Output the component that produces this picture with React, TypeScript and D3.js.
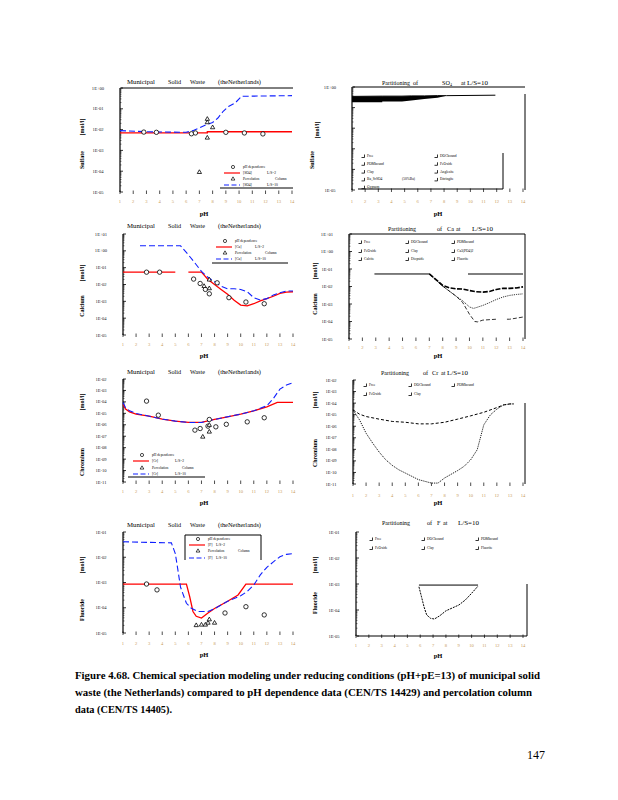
import React from 'react'
import * as d3 from 'd3'

const pHTicks = [1, 2, 3, 4, 5, 6, 7, 8, 9, 10, 11, 12, 13, 14]

// Sulfate - Municipal Solid Waste (NL)
const so4L2PH = [1, 7.6, 7.6, 14]
const so4L2 = [6.9e-3, 6.9e-3, 7.9e-3, 7.9e-3]
const so4L10PH = [1, 3, 6, 6.5, 7, 7.5, 8, 8.4, 8.8, 9.2, 9.7, 10.2, 14]
const so4L10 = [8.9e-3, 7.9e-3, 7.4e-3, 8.9e-3, 1.2e-2, 1.7e-2, 2.2e-2, 3.6e-2, 7.6e-2, 0.13, 0.19, 0.4, 0.43]
const so4PhDepPH = [2.8, 3.75, 6.4, 6.7, 9.0, 10.4, 11.8]
const so4PhDep = [7.6e-3, 7.4e-3, 6.3e-3, 6.9e-3, 7.4e-3, 6.9e-3, 6.2e-3]
const so4ColPH = [7.6, 7.6, 8.0, 7.0, 7.6]
const so4Col = [3.2e-2, 2.2e-2, 1.26e-2, 8.9e-5, 4.0e-3]

// Sulfate partitioning at L/S=10
const partSo4PH = [1, 3.3, 3.3, 4.8, 5.5, 6.5, 7.5, 8.2, 11.9]
const partSo4Total = [0.35, 0.36, 0.36, 0.36, 0.37, 0.37, 0.38, 0.38, 0.4]
const partSo4Solid = [0.18, 0.18, 0.2, 0.2, 0.22, 0.26, 0.3, 0.38, 0.4]

// Calcium - Municipal Solid Waste (NL)
const caL2PH = [1, 5, 5.5, 6, 7, 7.5, 8, 8.5, 9, 9.5, 10, 10.5, 11, 11.5, 12, 12.5, 13, 13.5, 14]
const caL2 = [5.4e-2, 5.4e-2, null, 5.4e-2, 5.4e-2, 2.0e-2, 1.0e-2, 5.1e-3, 2.6e-3, 1.15e-3, 6.0e-4, 5.4e-4, 7.2e-4, 1.05e-3, 1.45e-3, 2.0e-3, 2.95e-3, 3.5e-3, 3.7e-3]
const caL10PH = [2.3, 5.4, 6, 6.5, 7, 7.5, 8, 8.5, 9, 9.5, 10, 10.5, 11, 11.5, 12, 12.5, 13, 13.5, 14]
const caL10 = [2.0, 2.0, 0.58, 0.19, 6.0e-2, 2.7e-2, 1.45e-2, 7.9e-3, 5.6e-3, 5.6e-3, 5.1e-3, 3.7e-3, 1.65e-3, 1.2e-3, 1.45e-3, 2.35e-3, 3.2e-3, 4.1e-3, 4.1e-3]
const caPhDepPH = [2.8, 3.8, 6.4, 6.9, 7.3, 7.6, 8.2, 9.1, 10.4, 11.8]
const caPhDep = [5.4e-2, 5.4e-2, 2.1e-2, 1.15e-2, 5.1e-3, 2.8e-3, 1.26e-2, 1.65e-3, 9.1e-4, 7.2e-4]
const caColPH = [7.6, 7.6, 7.2]
const caCol = [1.9e-2, 5.8e-3, 7.9e-3]

// Calcium partitioning at L/S=10
const partCaTotalPH = [2.9, 7]
const partCaTotal = [5.2e-2, 5.2e-2]
const partCaAPH = [7, 7.5, 8, 8.5, 9, 9.5, 10, 10.5, 11, 11.5, 12, 12.5, 13, 13.5, 14]
const partCaA = [5.2e-2, 2.5e-2, 1.15e-2, 8.3e-3, 7.4e-3, 7.1e-3, 5.9e-3, 5.0e-3, 4.8e-3, 5.2e-3, 6.8e-3, 7.8e-3, 7.8e-3, 8.3e-3, 9.5e-3]
const partCaBPH = [7, 8, 9, 9.5, 10, 10.3, 10.5, 11, 11.5, 12, 12.5, 13, 13.5, 14]
const partCaB = [5.2e-2, 1.05e-2, 2.8e-3, 1.5e-3, 6.8e-4, 5.6e-4, 6.2e-4, 8.3e-4, 1.2e-3, 1.8e-3, 2.5e-3, 3.1e-3, 3.5e-3, 3.8e-3]
const partCaCPH = [7, 8, 9, 9.5, 10, 10.4, 10.6, 11, 12, 12.3, 12.8, 13, 13.5, 14]
const partCaC = [5.2e-2, 1.05e-2, 2.8e-3, 1.2e-3, 2.6e-4, 1.0e-4, 9.5e-5, 1.2e-4, 1.35e-4, null, 1.35e-4, 1.35e-4, 1.55e-4, 1.8e-4]

// Chromium - Municipal Solid Waste (NL)
const crL2PH = [1, 1.2, 1.5, 2, 3, 4, 5, 6, 7, 8, 9, 10, 11, 12, 12.8, 14]
const crL2 = [6.0e-5, 2.35e-5, 1.35e-5, 8.5e-6, 5.6e-6, 3.1e-6, 2.1e-6, 1.6e-6, 1.6e-6, 2.9e-6, 5.0e-6, 8.5e-6, 1.65e-5, 3.7e-5, 8.9e-5, 8.9e-5]
const crL10PH = [1, 1.2, 1.5, 2, 3, 4, 5, 6, 7, 8, 9, 10, 11, 12, 12.5, 13, 13.5, 14]
const crL10 = [8.9e-5, 3.1e-5, 1.65e-5, 9.8e-6, 5.6e-6, 3.1e-6, 2.1e-6, 1.6e-6, 1.6e-6, 2.9e-6, 5.0e-6, 8.5e-6, 1.65e-5, 4.6e-5, 2.0e-4, 1.3e-3, 2.95e-3, 4.8e-3]
const crPhDepPH = [2.8, 3.7, 7.6, 8.9, 10.5, 11.8, 6.5, 6.9, 7.5, 8.1]
const crPhDep = [1.17e-4, 6.9e-6, 2.9e-6, 1.1e-6, 1.8e-6, 4.1e-6, 3.4e-7, 4.7e-7, 7.6e-7, 6.6e-7]
const crColPH = [7.1, 7.6, 7.6]
const crCol = [8.7e-8, 2.4e-7, 9.3e-7]

// Chromium partitioning at L/S=10
const partCrPH = [1, 1.5, 2, 3, 4, 5, 6, 7, 8, 9, 10, 11, 12, 12.5, 13, 13.3]
const partCrTotal = [2.6e-5, 1.1e-5, 6.9e-6, 4.1e-6, 2.6e-6, 2.2e-6, 1.6e-6, 1.6e-6, 2.2e-6, 4.1e-6, 7.9e-6, 1.6e-5, 4.1e-5, 6.9e-5, 8.5e-5, 8.5e-5]
const partCrFreePH = [1, 1.5, 2, 2.5, 3, 3.5, 4, 4.5, 5, 6, 7, 7.5, 8, 9, 9.5, 10, 10.5, 11, 11.5, 12, 12.5, 13, 13.3]
const partCrFree = [2.6e-5, 3.5e-6, 2.5e-7, 3.5e-8, 5.8e-9, 1.26e-9, 4.1e-10, 1.7e-10, 8.9e-11, 2.4e-11, 1.2e-11, 1.2e-11, 3.3e-11, 1.45e-10, 3.4e-10, 1.26e-9, 9.3e-9, 1.3e-6, 9.5e-6, 3.0e-5, 6.9e-5, 8.5e-5, 8.5e-5]

// Fluoride - Municipal Solid Waste (NL)
const fL2PH = [1, 5.85, 6.1, 6.35, 6.6, 7, 7.5, 8, 9, 9.8, 10.4, 14]
const fL2 = [8.7e-4, 8.7e-4, 2.75e-4, 7.1e-5, 4.6e-5, 3.9e-5, 6.2e-5, 9.3e-5, 1.8e-4, 3.2e-4, 8.7e-4, 8.7e-4]
const fL10PH = [1, 4.7, 5.0, 5.2, 5.4, 5.85, 6.2, 6.7, 7.5, 8.0, 9, 10, 10.5, 11, 11.5, 12, 12.5, 13, 13.5, 14]
const fL10 = [4.1e-2, 3.7e-2, 1.4e-2, 3.1e-3, 6.5e-4, 1.5e-4, 9.8e-5, 7.1e-5, 7.1e-5, 9.1e-5, 1.8e-4, 3.0e-4, 4.4e-4, 7.9e-4, 2.0e-3, 4.0e-3, 6.6e-3, 1.05e-2, 1.3e-2, 1.4e-2]
const fPhDepPH = [2.8, 3.6, 8.8, 10.4, 11.8]
const fPhDep = [8.7e-4, 5.1e-4, 6.2e-5, 1.1e-4, 5.2e-5]
const fColPH = [6.6, 7.0, 7.3, 7.5, 7.6, 8.0]
const fCol = [2.0e-5, 2.1e-5, 2.1e-5, 2.5e-5, 3.4e-5, 2.5e-5]

// Fluoride partitioning at L/S=10
const partFTotalPH = [5.9, 10.5]
const partFTotal = [9.1e-4, 9.1e-4]
const partFFluoritePH = [5.9, 6.1, 6.3, 6.5, 6.8, 7.1, 7.5, 8, 9, 9.5, 10, 10.5]
const partFFluorite = [7.8e-4, 3.2e-4, 1.3e-4, 6.5e-5, 4.8e-5, 4.5e-5, 5.9e-5, 9.3e-5, 1.55e-4, 2.4e-4, 4.4e-4, 8.3e-4]

const captionLines = [
  'Figure 4.68.  Chemical speciation modeling under reducing conditions (pH+pE=13) of municipal solid',
  'waste (the Netherlands) compared to pH dependence data (CEN/TS 14429) and percolation column',
  'data (CEN/TS 14405).',
]

const RED = '#ff0000'
const BLUE = '#1020ff'
const SERIF = '"Liberation Serif", "Times New Roman", serif'

interface Series { pH: number[]; conc: (number | null)[]; color: string; width: number; dash?: string }
interface Points { pH: number[]; conc: number[]; shape: 'circle' | 'triangle' }
interface LegendEntry { mark: 'circle' | 'triangle' | 'line' | 'corner' | 'none'; x: number; y: number; x2?: number; color?: string; dash?: string; texts: [string, number][] }
interface TitleWord { t: string; x: number; sub?: boolean; w?: number }
interface PanelSpec {
  x1: number; x14: number; yTop: number; yBottom: number; domain: [number, number]; labelled?: number[]
  title: TitleWord[]; titleY: number
  yName: string; yNamePos: [number, number]; unitPos: [number, number]
  pHPos: [number, number]; xTickY: number
  lines: Series[]; points?: Points[]
  area?: { pH: number[]; lo: number[]; hi: number[] }
  legend: LegendEntry[]
  frame: [number, number, number, number][]
}

const mswTitle: TitleWord[] = [
  { t: 'Municipal', x: 127, w: 28 }, { t: 'Solid', x: 168 }, { t: 'Waste', x: 190 }, { t: '(theNetherlands)', x: 218, w: 43 },
]

const mswLegend = (el: string, x0: number, rows: number[], col2: number, col3: number): LegendEntry[] => [
  { mark: 'circle', x: x0 - 10, y: rows[0], texts: [['pH dependence', x0]] },
  { mark: 'line', x: x0 - 19, x2: x0 - 3, y: rows[1], color: RED, texts: [[`[${el}]`, x0], ['L/S=2', col2]] },
  { mark: 'triangle', x: x0 - 10, y: rows[2], texts: [['Percolation', x0], ['Column', col3]] },
  { mark: 'line', x: x0 - 19, x2: x0 - 3, y: rows[3], color: BLUE, dash: '5,2.5', texts: [[`[${el}]`, x0], ['L/S=10', col2]] },
]

const grid3 = (names: string[], cols: number[], rows: number[]): LegendEntry[] =>
  names.map((n, i) => ({ mark: 'corner', x: cols[i % 3], y: rows[Math.floor(i / 3)], texts: [[n, cols[i % 3] + 4]] }))

const partTitle = (el: string, xs: number[], sub?: string): TitleWord[] => {
  const w: TitleWord[] = [{ t: 'Partitioning', x: xs[0], w: 28 }, { t: 'of', x: xs[1] }, { t: el, x: xs[2] }]
  if (sub) w.push({ t: sub, x: xs[2] + 8, sub: true })
  w.push({ t: 'at', x: xs[3] }, { t: 'L/S=10', x: xs[4], w: 21 })
  return w
}

const panels: PanelSpec[] = [
  {
    x1: 120, x14: 292, yTop: 88, yBottom: 192, domain: [1, 1e-5],
    title: mswTitle, titleY: 81,
    yName: 'Sulfate', yNamePos: [82, 160], unitPos: [82, 127], pHPos: [204, 213], xTickY: 201,
    lines: [
      { pH: so4L2PH, conc: so4L2, color: RED, width: 1.3 },
      { pH: so4L10PH, conc: so4L10, color: BLUE, width: 1.1, dash: '6,3' },
    ],
    points: [{ pH: so4PhDepPH, conc: so4PhDep, shape: 'circle' }, { pH: so4ColPH, conc: so4Col, shape: 'triangle' }],
    legend: mswLegend('SO4', 243, [167, 173, 179, 185], 267, 275),
    frame: [[121, 88, 293, 88], [220, 188, 293, 188]],
  },
  {
    x1: 352, x14: 523, yTop: 87, yBottom: 190, domain: [1, 1e-5], labelled: [1, 1e-5],
    title: partTitle('SO', [382, 413, 442, 461, 467], '4'), titleY: 82,
    yName: 'Sulfate', yNamePos: [312, 160], unitPos: [317, 130], pHPos: [438, 213], xTickY: 201,
    lines: [{ pH: partSo4PH, conc: partSo4Total, color: '#000', width: 1 }],
    area: { pH: partSo4PH, lo: partSo4Solid, hi: partSo4Total },
    legend: [
      ...['Free', 'POMbound', 'Clay', 'Ba_SrSO4', 'Gypsum'].map((n, i): LegendEntry => ({ mark: 'corner', x: 363, y: 156 + i * 7.8, texts: [[n, 367]] })),
      ...['DOCbound', 'FeOxide', 'Anglesite', 'Ettringite'].map((n, i): LegendEntry => ({ mark: 'corner', x: 436, y: 156 + i * 7.8, texts: [[n, 440]] })),
      { mark: 'none', x: 0, y: 179.4, texts: [['(50%Ba)', 402]] },
    ],
    frame: [[353, 87, 525, 87], [525, 94, 525, 190], [358, 189, 503, 189], [503, 153, 503, 189]],
  },
  {
    x1: 123, x14: 293, yTop: 234, yBottom: 335, domain: [10, 1e-5],
    title: mswTitle, titleY: 225,
    yName: 'Calcium', yNamePos: [82, 306], unitPos: [82, 273], pHPos: [204, 355], xTickY: 344,
    lines: [
      { pH: caL2PH, conc: caL2, color: RED, width: 1.3 },
      { pH: caL10PH, conc: caL10, color: BLUE, width: 1.1, dash: '6,3' },
    ],
    points: [{ pH: caPhDepPH, conc: caPhDep, shape: 'circle' }, { pH: caColPH, conc: caCol, shape: 'triangle' }],
    legend: mswLegend('Ca', 235, [241, 247, 253, 259], 255, 265),
    frame: [[212, 263, 288, 263]],
  },
  {
    x1: 349, x14: 523, yTop: 234, yBottom: 339, domain: [10, 1e-5],
    title: partTitle('Ca', [388, 437, 447, 456, 472]), titleY: 228,
    yName: 'Calcium', yNamePos: [315, 304], unitPos: [315, 271], pHPos: [438, 355], xTickY: 347,
    lines: [
      { pH: partCaTotalPH, conc: partCaTotal, color: '#000', width: 1 },
      { pH: partCaAPH, conc: partCaA, color: '#000', width: 1.6, dash: '5,1.5' },
      { pH: partCaBPH, conc: partCaB, color: '#000', width: 0.8, dash: '1.2,1' },
      { pH: partCaCPH, conc: partCaC, color: '#000', width: 0.8, dash: '4,2' },
    ],
    legend: grid3(['Free', 'DOCbound', 'POMbound', 'FeOxide', 'Clay', 'Ca3(PO4)2', 'Calcite', 'Diopside', 'Fluorite'], [360, 407, 453], [242, 251, 259]),
    frame: [[350, 234, 525, 234], [525, 234, 525, 339], [468, 274, 523, 274]],
  },
  {
    x1: 123, x14: 293, yTop: 379, yBottom: 482, domain: [1e-2, 1e-11],
    title: mswTitle, titleY: 371,
    yName: 'Chromium', yNamePos: [82, 462], unitPos: [82, 402], pHPos: [204, 502], xTickY: 491,
    lines: [
      { pH: crL2PH, conc: crL2, color: RED, width: 1.3 },
      { pH: crL10PH, conc: crL10, color: BLUE, width: 1.1, dash: '6,3' },
    ],
    points: [{ pH: crPhDepPH, conc: crPhDep, shape: 'circle' }, { pH: crColPH, conc: crCol, shape: 'triangle' }],
    legend: mswLegend('Cr', 152, [455, 461, 468, 474], 175, 182),
    frame: [[128, 477, 205, 477]],
  },
  {
    x1: 353, x14: 523, yTop: 380, yBottom: 484, domain: [1e-2, 1e-11],
    title: partTitle('Cr', [381, 423, 432, 441, 447]), titleY: 372,
    yName: 'Chromium', yNamePos: [315, 453], unitPos: [315, 400], pHPos: [438, 502], xTickY: 495,
    lines: [
      { pH: partCrPH, conc: partCrTotal, color: '#000', width: 1, dash: '3,2' },
      { pH: partCrFreePH, conc: partCrFree, color: '#000', width: 0.9, dash: '1.2,1' },
    ],
    legend: grid3(['Free', 'DOCbound', 'POMbound', 'FeOxide', 'Clay'], [365, 410, 453], [385, 394]),
    frame: [[525, 403, 525, 484]],
  },
  {
    x1: 123, x14: 293, yTop: 532, yBottom: 633, domain: [1e-1, 1e-5],
    title: mswTitle, titleY: 524,
    yName: 'Fluoride', yNamePos: [82, 610], unitPos: [82, 565], pHPos: [204, 654], xTickY: 643,
    lines: [
      { pH: fL2PH, conc: fL2, color: RED, width: 1.3 },
      { pH: fL10PH, conc: fL10, color: BLUE, width: 1.1, dash: '6,3' },
    ],
    points: [{ pH: fPhDepPH, conc: fPhDep, shape: 'circle' }, { pH: fColPH, conc: fCol, shape: 'triangle' }],
    legend: mswLegend('F', 208, [539, 545, 551, 558], 216, 238),
    frame: [[185, 535, 261, 535], [185, 535, 185, 560], [261, 535, 261, 560]],
  },
  {
    x1: 356, x14: 523, yTop: 532, yBottom: 636, domain: [1e-1, 1e-5],
    title: partTitle('F', [382, 427, 437, 443, 458]), titleY: 522,
    yName: 'Fluoride', yNamePos: [315, 603], unitPos: [315, 565], pHPos: [438, 655], xTickY: 645,
    lines: [
      { pH: partFTotalPH, conc: partFTotal, color: '#000', width: 1 },
      { pH: partFFluoritePH, conc: partFFluorite, color: '#000', width: 1, dash: '2,1' },
    ],
    legend: grid3(['Free', 'DOCbound', 'POMbound', 'FeOxide', 'Clay', 'Fluorite'], [371, 423, 477], [539, 548]),
    frame: [[527, 584, 527, 636], [357, 636, 527, 636]],
  },
]

const fmtExp = (v: number) => {
  const e = Math.round(Math.log10(v))
  return `1E${e < 0 ? '-' : '+'}${String(Math.abs(e)).padStart(2, '0')}`
}

function Panel({ p }: { p: PanelSpec }) {
  const x = d3.scaleLinear().domain([1, 14]).range([p.x1, p.x14])
  const y = d3.scaleLog().domain(p.domain).range([p.yTop, p.yBottom])
  const ax = x(1)
  const hiExp = Math.round(Math.log10(p.domain[0]))
  const loExp = Math.round(Math.log10(p.domain[1]))
  const decades = d3.range(loExp, hiExp + 1).map((e) => Math.pow(10, e))
  const minors = d3.range(loExp, hiExp).flatMap((e) => d3.range(2, 10).map((k) => k * Math.pow(10, e)))
  const labelled = p.labelled ?? decades
  const linePath = (s: Series) =>
    d3
      .line<number>()
      .defined((i) => s.conc[i] != null)
      .x((i) => x(s.pH[i]))
      .y((i) => y(s.conc[i] as number))(d3.range(s.pH.length)) ?? ''
  const tri = d3.symbol(d3.symbolTriangle, 8)() ?? ''
  const triSmall = d3.symbol(d3.symbolTriangle, 6)() ?? ''

  return (
    <g>
      {p.frame.map((f, i) => (
        <line key={'f' + i} x1={f[0]} y1={f[1]} x2={f[2]} y2={f[3]} stroke="#000" strokeWidth={1} />
      ))}
      {/* title */}
      {p.title.map((w, i) => (
        <text
          key={'t' + i}
          x={w.x}
          y={w.sub ? p.titleY + 2 : p.titleY}
          fontSize={w.sub ? 4 : 6.2}
          dominantBaseline="central"
          fontFamily={SERIF}
          textLength={w.w}
          lengthAdjust={w.w ? 'spacingAndGlyphs' : undefined}
        >
          {w.t}
        </text>
      ))}
      {/* y axis */}
      <line x1={ax} x2={ax} y1={p.yTop} y2={p.yBottom} stroke="#000" strokeWidth={1.2} />
      {decades.map((d) => (
        <line key={'d' + d} x1={ax} x2={ax + 3} y1={y(d)} y2={y(d)} stroke="#000" strokeWidth={0.8} />
      ))}
      {minors.map((d) => (
        <line key={'m' + d} x1={ax} x2={ax + 1.5} y1={y(d)} y2={y(d)} stroke="#000" strokeWidth={0.5} />
      ))}
      {labelled.map((d) => (
        <text key={'l' + d} x={ax - 22} y={y(d)} fontSize={4.6} textAnchor="middle" dominantBaseline="central" fontFamily={SERIF} fill="#222">
          {fmtExp(d)}
        </text>
      ))}
      {/* x axis */}
      {pHTicks.map((t) => (
        <g key={'x' + t}>
          <line x1={x(t)} x2={x(t)} y1={p.yBottom - 1.5} y2={p.yBottom + 2} stroke="#000" strokeWidth={0.7} />
          <text x={x(t)} y={p.xTickY} fontSize={4.6} textAnchor="middle" dominantBaseline="central" fontFamily={SERIF} fill="#c89a5a">
            {t}
          </text>
        </g>
      ))}
      <text x={p.pHPos[0]} y={p.pHPos[1]} fontSize={6.5} textAnchor="middle" dominantBaseline="central" fontFamily={SERIF} fontWeight="bold">
        pH
      </text>
      <text transform={`translate(${p.yNamePos[0]},${p.yNamePos[1]}) rotate(-90)`} fontSize={6} textAnchor="middle" dominantBaseline="central" fontFamily={SERIF} fontWeight="bold">
        {p.yName}
      </text>
      <text transform={`translate(${p.unitPos[0]},${p.unitPos[1]}) rotate(-90)`} fontSize={6} textAnchor="middle" dominantBaseline="central" fontFamily={SERIF} fontWeight="bold">
        [mol/l]
      </text>
      {/* data */}
      {p.area && (
        <path
          d={
            d3
              .area<number>()
              .x((i) => x(p.area!.pH[i]))
              .y0((i) => y(p.area!.lo[i]))
              .y1((i) => y(p.area!.hi[i]))(d3.range(p.area.pH.length)) ?? ''
          }
          fill="#000"
        />
      )}
      {p.lines.map((s, i) => (
        <path key={'s' + i} d={linePath(s)} fill="none" stroke={s.color} strokeWidth={s.width} strokeDasharray={s.dash} />
      ))}
      {p.points?.map((pt, j) =>
        pt.pH.map((v, i) =>
          pt.shape === 'circle' ? (
            <circle key={`p${j}-${i}`} cx={x(v)} cy={y(pt.conc[i])} r={2.2} fill="#fff" stroke="#000" strokeWidth={0.8} />
          ) : (
            <path key={`p${j}-${i}`} d={tri} transform={`translate(${x(v)},${y(pt.conc[i])})`} fill="#fff" stroke="#000" strokeWidth={0.8} />
          ),
        ),
      )}
      {/* legend */}
      {p.legend.map((e, i) => (
        <g key={'g' + i}>
          {e.mark === 'line' && <line x1={e.x} x2={e.x2} y1={e.y} y2={e.y} stroke={e.color} strokeWidth={1.2} strokeDasharray={e.dash} />}
          {e.mark === 'circle' && <circle cx={e.x} cy={e.y} r={1.6} fill="#fff" stroke="#000" strokeWidth={0.7} />}
          {e.mark === 'triangle' && <path d={triSmall} transform={`translate(${e.x},${e.y})`} fill="#fff" stroke="#000" strokeWidth={0.7} />}
          {e.mark === 'corner' && <path d={`M${e.x - 1.5},${e.y + 1.5}h3v-3`} fill="none" stroke="#000" strokeWidth={0.8} />}
          {e.texts.map(([t, tx], k) => (
            <text key={k} x={tx} y={e.y} fontSize={3.6} dominantBaseline="central" fontFamily={SERIF}>
              {t}
            </text>
          ))}
        </g>
      ))}
    </g>
  )
}

export default function App() {
  const captionWidths = [465, 457, 97]
  return (
    <svg width={618} height={800} style={{ position: 'absolute', left: 0, top: 0, background: '#fff' }}>
      <rect width={618} height={800} fill="#fff" />
      {panels.map((p, i) => (
        <Panel key={i} p={p} />
      ))}
      {captionLines.map((t, i) => (
        <text
          key={i}
          x={75}
          y={679 + i * 17}
          fontSize={11}
          fontWeight="bold"
          fontFamily={SERIF}
          textLength={captionWidths[i]}
          lengthAdjust="spacingAndGlyphs"
        >
          {t}
        </text>
      ))}
      <text x={527} y={759} fontSize={12} fontFamily={SERIF}>
        147
      </text>
    </svg>
  )
}
